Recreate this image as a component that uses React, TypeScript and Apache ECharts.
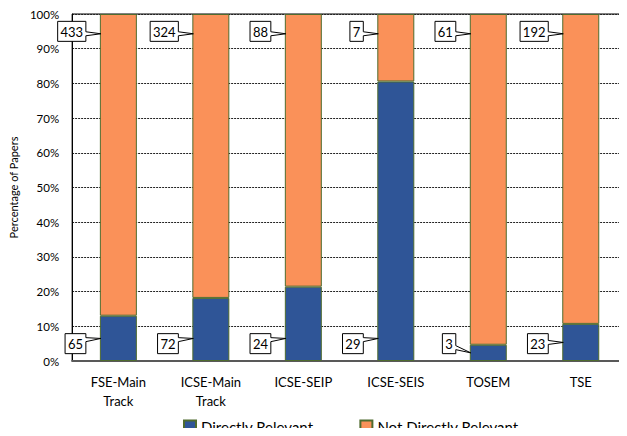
import React, { useEffect, useRef } from "react";
import * as echarts from "echarts";

const categories = ["FSE-Main\nTrack", "ICSE-Main\nTrack", "ICSE-SEIP", "ICSE-SEIS", "TOSEM", "TSE"];
const directlyRelevant = [65, 72, 24, 29, 3, 23];
const notDirectlyRelevant = [433, 324, 88, 7, 61, 192];
const seriesNames = ["Directly Relevant", "Not Directly Relevant"];

const FONT = 'Lato, "Noto Sans", sans-serif';
const BLUE = "#2F5597";
const ORANGE = "#FA9159";
const EDGE = "#4F6B2E";
const BAR_FRACTION = 0.4;
const GAP = 14;

export default function App() {
  const ref = useRef<HTMLDivElement>(null);

  useEffect(() => {
    if (!ref.current) return;
    const chart = echarts.init(ref.current, undefined, { renderer: "svg" });

    const totals = directlyRelevant.map((d, i) => d + notDirectlyRelevant[i]);
    const pctDirect = directlyRelevant.map((d, i) => (d / totals[i]) * 100);
    const pctNot = notDirectlyRelevant.map((d, i) => (d / totals[i]) * 100);

    // callout data: [categoryIndex, boxPct, tipPct, count]
    const calloutsBottom = directlyRelevant.map((c, i) => [i, 5, Math.min(pctDirect[i] / 2, 6.5), c]);
    const calloutsTop = notDirectlyRelevant.map((c, i) => [i, 95, 94.3, c]);

    const renderCallout = (params: any, api: any) => {
      const idx = api.value(0);
      const boxPct = api.value(1);
      const tipPct = api.value(2);
      const count = api.value(3);
      const [cx, by] = api.coord([idx, boxPct]);
      const ty = api.coord([idx, tipPct])[1];
      const bandW = api.size([1, 0])[0];
      const barLeft = cx - (bandW * BAR_FRACTION) / 2;
      const text = String(count);
      const w = text.length * 7.4 + 6;
      const h = 20;
      const right = barLeft - GAP;
      const left = right - w;
      const top = by - h / 2;
      const bottom = by + h / 2;
      const a1 = Math.max(top + 4, Math.min(ty - 2, bottom - 8));
      const a2 = a1 + 4;
      const tipX = barLeft + 1;
      return {
        type: "group",
        children: [
          {
            type: "polygon",
            shape: {
              points: [
                [left, top],
                [right, top],
                [right, a1],
                [tipX, ty],
                [right, a2],
                [right, bottom],
                [left, bottom],
              ],
            },
            style: { fill: "#fff", stroke: "#000", lineWidth: 1 },
          },
          {
            type: "text",
            style: {
              text,
              x: left + w / 2,
              y: by + 0.5,
              align: "center",
              verticalAlign: "middle",
              font: `13px ${FONT}`,
              fill: "#000",
            },
          },
        ],
      };
    };

    chart.setOption({
      animation: false,
      textStyle: { fontFamily: FONT },
      grid: { left: 69, right: 0, top: 14, bottom: 75, show: true, borderColor: "#000", borderWidth: 1 },
      legend: {
        data: seriesNames,
        top: 414,
        left: 178,
        padding: [5, 5, 0, 5],
        itemWidth: 12,
        itemHeight: 12,
        itemGap: 46,
        textStyle: { fontSize: 15, color: "#000", fontFamily: FONT },
        icon: "rect",
      },
      xAxis: {
        type: "category",
        data: categories,
        axisLine: { lineStyle: { color: "#595959", width: 2 } },
        axisTick: { show: false },
        axisLabel: { fontSize: 13, color: "#000", margin: 11, lineHeight: 19, interval: 0 },
      },
      yAxis: {
        type: "value",
        min: 0,
        max: 100,
        interval: 10,
        name: "Percentage of Papers",
        nameLocation: "middle",
        nameGap: 51,
        nameTextStyle: { fontSize: 11, color: "#000" },
        axisLine: { show: true, lineStyle: { color: "#000", width: 1 } },
        axisTick: { show: false },
        axisLabel: { fontSize: 11.5, color: "#000", margin: 13, formatter: "{value}%" },
        splitLine: { lineStyle: { type: [2, 1], color: "#222", width: 1 } },
      },
      series: [
        {
          name: seriesNames[0],
          type: "bar",
          stack: "total",
          barWidth: "40%",
          data: pctDirect,
          itemStyle: { color: BLUE, borderColor: EDGE, borderWidth: 1 },
        },
        {
          name: seriesNames[1],
          type: "bar",
          stack: "total",
          barWidth: "40%",
          data: pctNot,
          itemStyle: { color: ORANGE, borderColor: EDGE, borderWidth: 1 },
        },
        {
          type: "custom",
          coordinateSystem: "cartesian2d",
          renderItem: renderCallout,
          data: calloutsBottom,
          encode: { x: 0, y: 1 },
          clip: false,
          z: 5,
          silent: true,
        },
        {
          type: "custom",
          coordinateSystem: "cartesian2d",
          renderItem: renderCallout,
          data: calloutsTop,
          encode: { x: 0, y: 1 },
          clip: false,
          z: 5,
          silent: true,
        },
      ],
    });

    return () => chart.dispose();
  }, []);

  return <div ref={ref} style={{ width: 627, height: 436, margin: -8 }} />;
}
